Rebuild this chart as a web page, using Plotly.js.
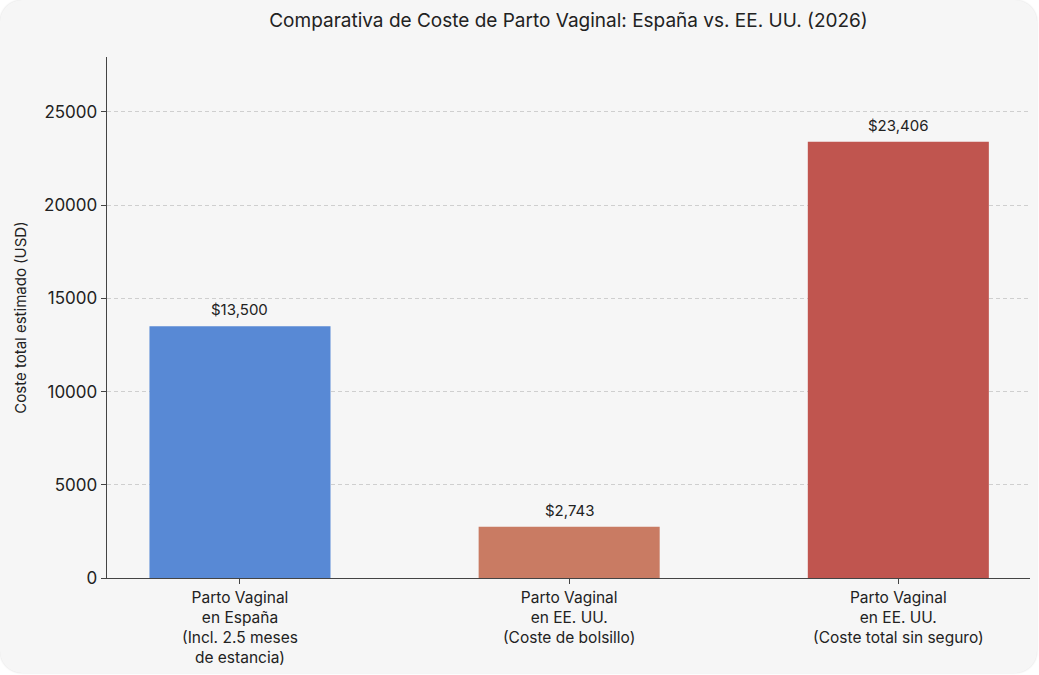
<!DOCTYPE html>
<html><head><meta charset="utf-8">
<script src="https://cdn.plot.ly/plotly-3.0.1.min.js"></script>
<style>
html,body{margin:0;padding:0;background:#ffffff;}
#card{position:absolute;left:0;top:0;width:1037px;height:673px;background:#f6f6f6;border-radius:22px;box-shadow:0 0 2px rgba(0,0,0,0.15);overflow:hidden;}
#chart{width:1037px;height:673px;}
</style></head>
<body><div id="card"><div id="chart"></div></div>
<script>
const categories = [
  "Parto Vaginal<br>en España<br>(Incl. 2.5 meses<br>de estancia)",
  "Parto Vaginal<br>en EE. UU.<br>(Coste de bolsillo)",
  "Parto Vaginal<br>en EE. UU.<br>(Coste total sin seguro)"
];
const costs = [13500, 2743, 23406];
const labels = ["$13,500", "$2,743", "$23,406"];
const colors = ["#5889d5", "#c97b63", "#c0554f"];
const tickVals = [0, 5000, 10000, 15000, 20000, 25000];
const tickText = ["0", "5000", "10000", "15000", "20000", "25000"];

const FONT = "Inter, 'Noto Sans', sans-serif";
const trace = {
  type: "bar",
  x: [0, 1, 2],
  y: costs,
  width: 0.55,
  marker: {color: colors, line: {width: 0}},
  hoverinfo: "skip"
};
const annotations = costs.map((v, i) => ({
  x: i, y: v, xref: "x", yref: "y", text: labels[i], showarrow: false,
  yanchor: "bottom", yshift: 5, font: {family: FONT, size: 15, color: "#222"}
}));
const layout = {
  width: 1037, height: 673,
  paper_bgcolor: "rgba(0,0,0,0)", plot_bgcolor: "rgba(0,0,0,0)",
  margin: {l: 107, r: 7, t: 57, b: 95},
  title: {text: "Comparativa de Coste de Parto Vaginal: España vs. EE. UU. (2026)",
    x: 0.5, xref: "paper", y: 0.97, yanchor: "middle",
    font: {family: FONT, size: 19, color: "#222"}},
  xaxis: {
    range: [-0.404, 2.40], tickvals: [0, 1, 2], ticktext: categories,
    showline: true, linecolor: "#444", linewidth: 1.3,
    ticks: "outside", ticklen: 5, tickcolor: "#444",
    showgrid: false, zeroline: false,
    tickfont: {family: FONT, size: 15.5, color: "#222"}
  },
  yaxis: {
    range: [0, 27950], tickvals: tickVals, ticktext: tickText,
    showline: true, linecolor: "#444", linewidth: 1.3,
    ticks: "outside", ticklen: 5, tickcolor: "#444",
    showgrid: true, gridcolor: "#cfcfcf", griddash: "4px,3px", gridwidth: 1,
    zeroline: false,
    tickfont: {family: FONT, size: 17, color: "#222"},
    title: {text: "Coste total estimado (USD)", standoff: 13,
      font: {family: FONT, size: 15, color: "#222"}}
  },
  annotations: annotations,
  showlegend: false
};
Plotly.newPlot("chart", [trace], layout, {displayModeBar: false, staticPlot: true});
</script></body></html>
